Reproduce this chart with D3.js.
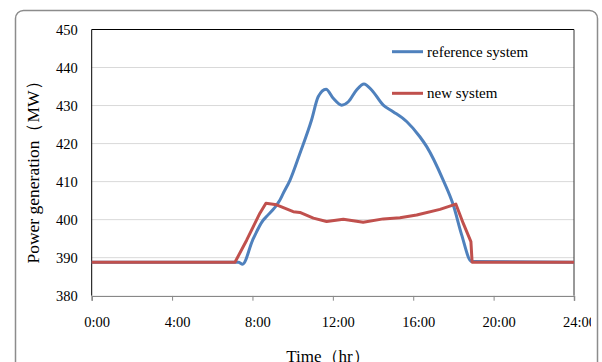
<!DOCTYPE html>
<html>
  <head>
    <meta charset="utf-8">
    <style>
      body { margin: 0; background: #fff; }
      text { font-family: "Liberation Serif", "Times New Roman", serif; fill: #000; }
      .tick-label { font-size: 14.5px; }
    </style>
  </head>
  <body>
    <div id="chart"></div>
    <script src="https://cdn.jsdelivr.net/npm/d3@7"></script>
    <script>
      // data (hours, MW)
      var refHours = [0, 7.3, 7.51, 8.0, 8.54, 8.7, 9.37, 9.53, 9.87, 10.36, 10.94, 11.27, 11.66,
        12.02, 12.44, 12.77, 13.18, 13.55, 13.93, 14.51, 15.0, 15.67, 16.33, 16.67, 17.49,
        17.99, 18.41, 18.9, 24];
      var refPower = [388.8, 388.8, 388.3, 394.5, 399.9, 400.8, 405.2, 406.9, 410.4, 417.4, 426.2,
        432.3, 434.3, 431.9, 430.1, 431.0, 434.1, 435.7, 434.1, 430.1, 428.4, 425.8, 421.8,
        419.2, 410.4, 403.9, 396.0, 389.0, 388.8];

      var newHours = [0, 7.13, 7.71, 8.37, 8.67, 9.2, 10.03, 10.36, 11.03, 11.69, 12.52, 13.51,
        14.51, 15.34, 16.17, 17.33, 18.12, 18.49, 18.87, 18.93, 24];
      var newPower = [388.8, 388.8, 394.6, 401.7, 404.3, 403.9, 402.1, 401.9, 400.4, 399.5, 400.1,
        399.3, 400.2, 400.5, 401.2, 402.7, 404.1, 399.0, 394.2, 388.8, 388.8];

      var xTicks = [0, 4, 8, 12, 16, 20, 24];
      var yTicks = [380, 390, 400, 410, 420, 430, 440, 450];
      var seriesNames = ['reference system', 'new system'];
      var seriesColors = ['#4F81BD', '#C0504D'];

      (function(d3) {
        'use strict';

        var width = 602, height = 362;
        var plotLeft = 91.7, plotRight = 574, plotTop = 29.5, plotBottom = 295.7;

        var svg = d3.select('#chart').append('svg')
          .attr('width', width)
          .attr('height', height);

        // outer chart frame
        svg.append('rect')
          .attr('x', 15.5).attr('y', 10.5)
          .attr('width', 582).attr('height', 370)
          .attr('rx', 8).attr('ry', 8)
          .attr('fill', 'none')
          .attr('stroke', '#8c8c8c')
          .attr('stroke-width', 1.5);

        svg.append('clipPath').attr('id', 'txtclip')
          .append('rect').attr('x', 0).attr('y', 0).attr('width', 591).attr('height', height);

        var x = d3.scaleLinear().domain([0, 24]).range([plotLeft, plotRight]);
        var y = d3.scaleLinear().domain([380, 450]).range([plotBottom, plotTop]);

        // gridlines
        svg.append('g').selectAll('line')
          .data(yTicks.slice(1, -1))
          .enter().append('line')
          .attr('x1', plotLeft).attr('x2', plotRight)
          .attr('y1', function(d) { return y(d); })
          .attr('y2', function(d) { return y(d); })
          .attr('stroke', '#d9d9d9')
          .attr('stroke-width', 1);

        // plot border
        svg.append('line').attr('x1', plotLeft).attr('x2', plotRight).attr('y1', plotTop).attr('y2', plotTop)
          .attr('stroke', '#000').attr('stroke-width', 1);
        svg.append('line').attr('x1', plotRight).attr('x2', plotRight).attr('y1', plotTop).attr('y2', plotBottom)
          .attr('stroke', '#333').attr('stroke-width', 1);
        svg.append('line').attr('x1', plotLeft).attr('x2', plotLeft).attr('y1', plotTop).attr('y2', plotBottom)
          .attr('stroke', '#000').attr('stroke-width', 1);

        // x axis
        var xAxis = d3.axisBottom(x)
          .tickValues(xTicks)
          .tickSize(5)
          .tickFormat(function(d) { return d + ':00'; });
        var gx = svg.append('g')
          .attr('transform', 'translate(0,' + plotBottom + ')')
          .attr('clip-path', 'url(#txtclip)')
          .call(xAxis);
        gx.attr('font-family', null).attr('font-size', null);
        gx.select('.domain').attr('stroke', '#888').attr('stroke-width', 1.5);
        gx.selectAll('.tick line').attr('stroke', '#888');
        gx.selectAll('.tick text')
          .attr('class', 'tick-label')
          .attr('dx', 5).attr('dy', 0).attr('y', 31);

        // y axis
        var yAxis = d3.axisLeft(y).tickValues(yTicks).tickSize(0).tickPadding(14);
        var gy = svg.append('g')
          .attr('transform', 'translate(' + plotLeft + ',0)')
          .call(yAxis);
        gy.attr('font-family', null).attr('font-size', null);
        gy.select('.domain').remove();
        gy.selectAll('.tick text').attr('class', 'tick-label');

        // series
        var line = d3.line()
          .x(function(d) { return x(d[0]); })
          .y(function(d) { return y(d[1]); })
          .curve(d3.curveMonotoneX);

        var refData = d3.zip(refHours, refPower);
        var newData = d3.zip(newHours, newPower);

        svg.append('path')
          .datum(refData)
          .attr('d', line)
          .attr('fill', 'none')
          .attr('stroke', seriesColors[0])
          .attr('stroke-width', 3)
          .attr('stroke-linejoin', 'round');

        svg.append('path')
          .datum(newData)
          .attr('d', line.curve(d3.curveLinear))
          .attr('fill', 'none')
          .attr('stroke', seriesColors[1])
          .attr('stroke-width', 3)
          .attr('stroke-linejoin', 'round');

        // legend
        var legend = svg.selectAll('.legend')
          .data(seriesNames)
          .enter().append('g')
          .attr('class', 'legend')
          .attr('transform', function(d, i) {
            return 'translate(392,' + (51.7 + i * 41.6) + ')';
          });
        legend.append('line')
          .attr('x1', 0).attr('x2', 31)
          .attr('stroke', function(d, i) { return seriesColors[i]; })
          .attr('stroke-width', 3);
        legend.append('text')
          .attr('x', 35).attr('y', 5)
          .style('font-size', '15px')
          .text(function(d) { return d; });

        // axis titles
        svg.append('text')
          .attr('transform', 'translate(39,168) rotate(-90)')
          .attr('text-anchor', 'middle')
          .style('font-size', '17.5px')
          .text('Power generation（MW）');

        svg.append('text')
          .attr('x', 328).attr('y', 362)
          .attr('text-anchor', 'middle')
          .style('font-size', '17px')
          .text('Time（hr）');
      })(window.d3);
    </script>
  </body>
</html>
